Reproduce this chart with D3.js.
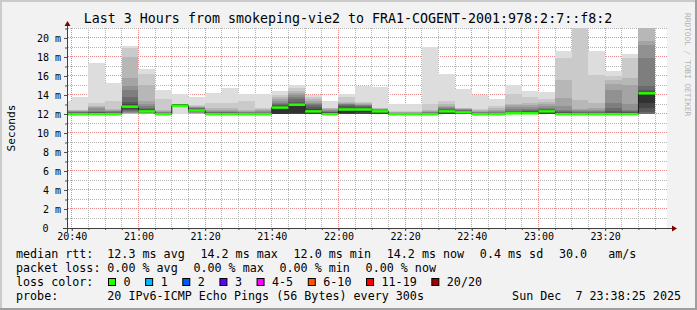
<!DOCTYPE html>
<html>
<head>
<meta charset="utf-8">
<script src="https://cdn.jsdelivr.net/npm/d3@7"></script>
<style>
  body { margin: 0; background: #f2f2f2; }
  svg { display: block; }
  text { font-family: "DejaVu Sans Mono", monospace; fill: #000; }
</style>
</head>
<body>
<script>
// one step = one round of 20 pings, 300 s apart
const stepStarts = ["20:35","20:40","20:45","20:50","20:55","21:00","21:05","21:10","21:15","21:20",
  "21:25","21:30","21:35","21:40","21:45","21:50","21:55","22:00","22:05","22:10",
  "22:15","22:20","22:25","22:30","22:35","22:40","22:45","22:50","22:55","23:00",
  "23:05","23:10","23:15","23:20","23:25","23:30"];

// sorted rtt of the 20 pings per step (ms)
const pings = [
  [12.0,12.0,12.0,12.0,12.0,12.0,12.0,12.0,12.0,12.0,12.0,12.1,12.1,12.2,12.2,12.3,12.3,12.4,12.4,13.4],
  [12.0,12.0,12.0,12.0,12.0,12.0,12.0,12.0,12.0,12.0,12.0,12.1,12.1,12.2,12.2,12.3,12.3,12.4,12.4,13.8],
  [12.0,12.0,12.0,12.0,12.0,12.0,12.0,12.0,12.0,12.0,12.0,12.1,12.2,12.2,12.3,12.6,12.7,12.8,13.2,17.4],
  [12.0,12.0,12.0,12.0,12.0,12.0,12.0,12.0,12.0,12.0,12.0,12.1,12.1,12.2,12.3,12.3,12.4,12.5,13.4,15.3],
  [12.0,12.0,12.0,12.1,12.1,12.2,12.3,12.4,12.5,12.7,12.8,13.0,13.3,13.8,14.5,14.9,15.8,18.0,18.9,19.2],
  [12.0,12.0,12.0,12.0,12.1,12.1,12.1,12.2,12.2,12.2,12.3,12.4,12.5,12.6,12.8,13.0,13.4,15.1,16.2,16.7],
  [12.0,12.0,12.0,12.0,12.0,12.0,12.0,12.0,12.0,12.0,12.0,12.1,12.1,12.1,12.2,12.2,12.3,12.4,13.6,14.5],
  [12.0,12.8,12.8,12.8,12.9,12.9,12.9,12.9,12.9,12.9,12.9,13.0,13.0,13.0,13.0,13.1,13.1,13.1,13.1,14.1],
  [12.0,12.0,12.0,12.1,12.1,12.2,12.2,12.3,12.3,12.4,12.4,12.5,12.5,12.6,12.6,12.7,12.7,12.8,12.9,13.8],
  [12.0,12.0,12.0,12.0,12.0,12.0,12.0,12.0,12.0,12.0,12.0,12.1,12.1,12.2,12.2,12.3,12.4,12.6,13.2,14.2],
  [12.0,12.0,12.0,12.0,12.0,12.0,12.0,12.0,12.0,12.0,12.0,12.1,12.1,12.2,12.2,12.3,12.4,12.6,13.2,14.7],
  [12.0,12.0,12.0,12.0,12.0,12.0,12.0,12.0,12.0,12.0,12.0,12.0,12.1,12.1,12.2,12.2,12.3,12.4,13.4,14.1],
  [12.0,12.0,12.0,12.0,12.0,12.0,12.0,12.0,12.0,12.0,12.0,12.0,12.1,12.1,12.2,12.3,12.4,12.5,12.6,14.1],
  [12.0,12.0,12.0,12.0,12.0,12.0,12.0,12.0,12.0,12.0,12.7,12.8,12.9,13.0,13.2,13.4,13.6,13.8,14.0,14.4],
  [12.0,12.0,12.0,12.0,12.0,12.0,12.0,12.0,12.0,12.1,13.0,13.1,13.3,13.6,13.8,14.0,14.2,14.4,14.7,15.0],
  [12.0,12.0,12.0,12.0,12.0,12.0,12.0,12.0,12.0,12.1,12.3,12.5,12.7,12.9,13.0,13.2,13.4,13.6,13.8,14.0],
  [12.0,12.0,12.0,12.0,12.0,12.0,12.0,12.0,12.0,12.0,12.0,12.1,12.2,12.2,12.3,12.4,12.5,12.6,12.6,13.4],
  [12.0,12.0,12.0,12.0,12.0,12.0,12.0,12.0,12.0,12.1,12.5,12.6,12.8,12.9,13.0,13.1,13.2,13.3,13.8,14.1],
  [12.0,12.0,12.0,12.0,12.0,12.0,12.0,12.0,12.0,12.2,12.5,12.6,12.7,12.8,12.9,12.9,13.0,13.2,13.3,14.9],
  [12.0,12.0,12.0,12.0,12.0,12.0,12.0,12.0,12.0,12.1,12.3,12.3,12.3,12.4,12.4,12.5,12.5,12.6,12.6,14.8],
  [12.0,12.0,12.0,12.0,12.0,12.0,12.0,12.0,12.0,12.0,12.0,12.0,12.0,12.1,12.1,12.1,12.2,12.2,12.3,13.0],
  [12.0,12.0,12.0,12.0,12.0,12.0,12.0,12.0,12.0,12.0,12.0,12.0,12.0,12.1,12.1,12.1,12.2,12.2,12.3,13.1],
  [12.0,12.0,12.0,12.0,12.0,12.0,12.0,12.0,12.0,12.0,12.0,12.0,12.1,12.1,12.2,12.2,12.3,12.4,13.0,19.1],
  [12.0,12.0,12.0,12.0,12.0,12.0,12.0,12.0,12.0,12.1,12.3,12.3,12.4,12.5,12.6,12.7,12.8,13.0,13.4,16.2],
  [12.0,12.0,12.0,12.0,12.0,12.0,12.0,12.0,12.0,12.0,12.2,12.3,12.3,12.4,12.4,12.5,12.5,12.6,12.6,14.6],
  [12.0,12.0,12.0,12.0,12.0,12.0,12.0,12.0,12.0,12.0,12.0,12.1,12.1,12.1,12.2,12.2,12.3,12.4,12.5,14.0],
  [12.0,12.0,12.0,12.0,12.0,12.0,12.0,12.0,12.0,12.0,12.0,12.1,12.1,12.1,12.2,12.3,12.4,12.6,12.8,13.6],
  [12.0,12.0,12.0,12.0,12.0,12.0,12.0,12.0,12.0,12.0,12.1,12.1,12.2,12.3,12.5,12.7,12.9,13.0,14.1,15.0],
  [12.0,12.0,12.0,12.0,12.0,12.0,12.0,12.0,12.0,12.0,12.1,12.2,12.3,12.4,12.5,12.7,12.9,13.2,13.8,14.4],
  [12.0,12.0,12.0,12.0,12.0,12.0,12.0,12.0,12.0,12.1,12.3,12.3,12.4,12.5,12.6,12.8,13.0,13.3,13.6,14.3],
  [12.0,12.0,12.0,12.0,12.0,12.0,12.0,12.0,12.0,12.0,12.0,12.1,12.2,12.3,12.4,12.8,13.7,15.6,17.9,18.6],
  [12.0,12.0,12.0,12.0,12.0,12.0,12.0,12.0,12.0,12.0,12.0,12.1,12.1,12.2,12.3,12.4,12.5,13.5,21.5,22.0],
  [12.0,12.0,12.0,12.0,12.0,12.0,12.0,12.0,12.0,12.0,12.0,12.1,12.1,12.2,12.3,12.4,12.6,13.2,16.1,18.6],
  [12.0,12.0,12.0,12.0,12.0,12.0,12.0,12.0,12.0,12.0,12.0,12.1,12.3,12.6,13.2,14.5,15.2,15.6,16.0,16.5],
  [12.0,12.0,12.0,12.0,12.0,12.0,12.0,12.0,12.0,12.0,12.0,12.1,12.2,12.3,12.4,13.0,15.1,15.8,17.9,18.3],
  [12.0,12.0,12.0,12.0,12.0,12.0,12.0,12.2,12.6,13.2,14.2,14.3,14.5,14.9,17.9,19.3,19.7,21.3,21.6,22.0]
];
const lossCount = [0,0,0,0,0,0,0,0,0,0,0,0,0,0,0,0,0,0,0,0,0,0,0,0,0,0,0,0,0,0,0,0,0,0,0,0];

const lossLabels = ["0","1","2","3","4-5","6-10","11-19","20/20"];
const lossMax    = [0, 1, 2, 3, 5, 10, 19, 20];
const lossColors = ["#26ff00","#00b8ff","#0059ff","#5e00ff","#ff00ff","#ff5500","#ff0000","#a10000"];

const rttStats  = ["12.3 ms avg","14.2 ms max","12.0 ms min","14.2 ms now","0.4 ms sd","30.0   am/s"];
const lossStats = ["0.00 % avg","0.00 % max","0.00 % min","0.00 % now"];
const title = "Last 3 Hours from smokeping-vie2 to FRA1-COGENT-2001:978:2:7::f8:2";
const probeText = "20 IPv6-ICMP Echo Pings (56 Bytes) every 300s";
const stamp = "Sun Dec  7 23:38:25 2025";

const W = 697, H = 310;
const day = "2025-12-07 ";
const parseT = d3.timeParse("%Y-%m-%d %H:%M:%S");
const tStart = parseT(day + "20:38:25");
const tEnd = parseT(day + "23:38:25");

const x = d3.scaleTime().domain([tStart, tEnd]).range([66.5, 666.5]);
const y = d3.scaleLinear().domain([0, 21.05]).range([228, 28]);

const svg = d3.select("body").append("svg")
  .attr("width", W)
  .attr("height", H);

// dotted patterns for the grid (1 px on, 1 px off)
const defs = svg.append("defs");
[["gMinorH", "#b4b4b4", 2, 1], ["gMajorH", "#e48a8a", 2, 1],
 ["gMinorV", "#b4b4b4", 1, 2], ["gMajorV", "#e48a8a", 1, 2]].forEach(p => {
  defs.append("pattern")
    .attr("id", p[0])
    .attr("patternUnits", "userSpaceOnUse")
    .attr("width", p[2]).attr("height", p[3])
    .append("rect").attr("width", 1).attr("height", 1).attr("fill", p[1]);
});

// background and frame
svg.append("rect").attr("width", W).attr("height", H).attr("fill", "#f2f2f2");
svg.append("rect").attr("x", 0).attr("y", 0).attr("width", W).attr("height", 2).attr("fill", "#cbcbcb");
svg.append("rect").attr("x", 0).attr("y", 0).attr("width", 2).attr("height", H).attr("fill", "#cbcbcb");
svg.append("rect").attr("x", 0).attr("y", H - 2).attr("width", W).attr("height", 2).attr("fill", "#9e9e9e");
svg.append("rect").attr("x", W - 2).attr("y", 0).attr("width", 2).attr("height", H).attr("fill", "#9e9e9e");

// canvas
svg.append("rect").attr("x", 67).attr("y", 28).attr("width", 600).attr("height", 200).attr("fill", "#fff");

svg.append("clipPath").attr("id", "plot")
  .append("rect").attr("x", 67).attr("y", 28).attr("width", 600).attr("height", 200);

// grid
const grid = svg.append("g").attr("shape-rendering", "crispEdges");
const yGrid = d3.range(1, 22);
grid.selectAll("rect.hy")
  .data(yGrid)
  .join("rect")
  .attr("class", "hy")
  .attr("x", 68).attr("width", 599)
  .attr("y", d => Math.floor(y(d)))
  .attr("height", 1)
  .attr("fill", d => d % 2 === 0 ? "url(#gMajorH)" : "url(#gMinorH)");

const xGrid = d3.timeMinute.every(5).range(tStart, tEnd);
grid.selectAll("rect.vx")
  .data(xGrid)
  .join("rect")
  .attr("class", "vx")
  .attr("y", 28).attr("height", 200)
  .attr("x", d => Math.floor(x(d)))
  .attr("width", 1)
  .attr("fill", d => d.getMinutes() % 20 === 0 ? "url(#gMajorV)" : "url(#gMinorV)");

// smoke: band k spans ping k .. ping 19-k, inner bands darker
const steps = stepStarts.map((s, i) => {
  const t0 = parseT(day + s + ":00");
  return { t0: t0, t1: d3.timeMinute.offset(t0, 5), p: pings[i], med: pings[i][10], loss: lossCount[i] };
});
const bands = [];
steps.forEach(s => {
  for (let k = 0; k < 10; k++) {
    const c = Math.floor(190 / 10 * (10 - (k + 1))) + 50;
    bands.push({ s: s, lo: s.p[k], hi: s.p[19 - k], col: d3.rgb(c, c, c).formatHex() });
  }
});

const smoke = svg.append("g").attr("clip-path", "url(#plot)").attr("shape-rendering", "crispEdges");
smoke.selectAll("rect")
  .data(bands)
  .join("rect")
  .attr("x", d => x(d.s.t0))
  .attr("width", d => x(d.s.t1) - x(d.s.t0))
  .attr("y", d => y(d.hi))
  .attr("height", d => Math.max(0.6, y(d.lo) - y(d.hi)))
  .attr("fill", d => d.col);

// median line
const medPts = steps.map(s => [s.t0, s.med]);
medPts.push([steps[steps.length - 1].t1, steps[steps.length - 1].med]);
const medLine = d3.line()
  .x(d => x(d[0]))
  .y(d => y(d[1]))
  .curve(d3.curveStepAfter);
const medG = svg.append("g").attr("clip-path", "url(#plot)");
medG.append("path")
  .attr("d", medLine(medPts))
  .attr("fill", "none")
  .attr("stroke", "#202020")
  .attr("stroke-width", 1);

const lossIndex = n => lossMax.findIndex(m => n <= m);
medG.selectAll("rect")
  .data(steps)
  .join("rect")
  .attr("x", d => x(d.t0))
  .attr("width", d => x(d.t1) - x(d.t0))
  .attr("y", d => y(d.med) - 1)
  .attr("height", 2.5)
  .attr("fill", d => lossColors[lossIndex(d.loss)]);

// axes
const xAxis = d3.axisBottom(x)
  .tickValues(xGrid.filter(d => d.getMinutes() % 20 === 0))
  .tickFormat(d3.timeFormat("%H:%M"))
  .tickSize(3)
  .tickPadding(2);
const gx = svg.append("g").attr("transform", "translate(0,228)").call(xAxis);
gx.select(".domain").remove();
gx.selectAll("line").attr("stroke", "#505050");
gx.selectAll("text").style("font-size", "10px").style("font-family", "DejaVu Sans Mono");

const xMinor = d3.axisBottom(x).tickValues(xGrid).tickFormat("").tickSize(2);
const gxm = svg.append("g").attr("transform", "translate(0,228)").call(xMinor);
gxm.select(".domain").remove();
gxm.selectAll("line").attr("stroke", "#505050");

const yAxis = d3.axisLeft(y)
  .tickValues(d3.range(0, 21, 2))
  .tickFormat(d => d === 0 ? "0" : d + " m")
  .tickSize(3)
  .tickPadding(3);
const gy = svg.append("g").attr("transform", "translate(67,0)").call(yAxis);
gy.select(".domain").remove();
gy.selectAll("line").attr("stroke", "#505050");
gy.selectAll("text")
  .style("font-size", "10px").style("font-family", "DejaVu Sans Mono")
  .attr("x", d => d === 0 ? -18.5 : -6);

const yMinor = d3.axisLeft(y).tickValues(d3.range(1, 22, 2)).tickFormat("").tickSize(2);
const gym = svg.append("g").attr("transform", "translate(67,0)").call(yMinor);
gym.select(".domain").remove();
gym.selectAll("line").attr("stroke", "#505050");

// axis lines with arrows
svg.append("line").attr("x1", 63).attr("x2", 672).attr("y1", 228.5).attr("y2", 228.5)
  .attr("stroke", "#404040");
svg.append("line").attr("x1", 67.5).attr("x2", 67.5).attr("y1", 232).attr("y2", 25)
  .attr("stroke", "#404040");
svg.append("path").attr("d", "M672,225.5 L677,228.5 L672,231.5 Z").attr("fill", "#800000");
svg.append("path").attr("d", "M64.5,26 L67.5,21 L70.5,26 Z").attr("fill", "#800000");

// titles
svg.append("text")
  .attr("x", 348).attr("y", 23)
  .attr("text-anchor", "middle")
  .style("font-size", "13.3px")
  .text(title);

svg.append("text")
  .attr("transform", "translate(14.5,128) rotate(-90)")
  .attr("text-anchor", "middle")
  .style("font-size", "11.2px")
  .text("Seconds");

svg.append("text")
  .attr("transform", "translate(685,13) rotate(90)")
  .style("font-size", "7.8px")
  .style("fill", "#b4b4b4")
  .text("RRDTOOL / TOBI OETIKER");

// legend
const cw = 7.04, gap = 15.7;
const lg = svg.append("g").style("font-size", "11.7px").attr("xml:space", "preserve");
const rowY = [258, 272, 286, 299.5];

function row(label, items, yy) {
  lg.append("text").attr("x", 16).attr("y", yy).text(label);
  let xx = 107.3;
  items.forEach(s => {
    lg.append("text").attr("x", xx).attr("y", yy).style("white-space", "pre").text(s);
    xx += s.length * cw + gap;
  });
}
row("median rtt:", rttStats, rowY[0]);
row("packet loss:", lossStats, rowY[1]);

lg.append("text").attr("x", 16).attr("y", rowY[2]).text("loss color:");
let bx = 108.5;
lossLabels.forEach((l, i) => {
  lg.append("rect")
    .attr("x", bx).attr("y", 278.5).attr("width", 7).attr("height", 7)
    .attr("fill", lossColors[i]).attr("stroke", "#000").attr("stroke-width", 1);
  lg.append("text").attr("x", bx + 15).attr("y", rowY[2]).text(l);
  bx += 15 + l.length * cw + gap - 0.6;
});

lg.append("text").attr("x", 16).attr("y", rowY[3]).text("probe:");
lg.append("text").attr("x", 107.3).attr("y", rowY[3]).text(probeText);
lg.append("text").attr("x", 681).attr("y", rowY[3]).attr("text-anchor", "end")
  .style("white-space", "pre").text(stamp);
</script>
</body>
</html>
